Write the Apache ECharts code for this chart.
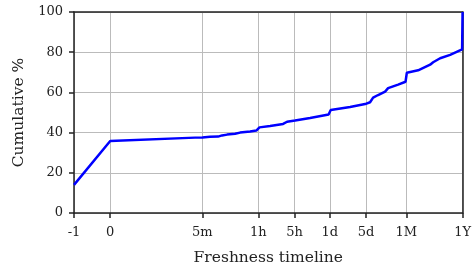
<!DOCTYPE html>
<html>
<head>
  <meta charset="utf-8">
  <title>Freshness timeline</title>
  <script src="https://cdn.jsdelivr.net/npm/echarts@6/dist/echarts.min.js"></script>
  <style>
    html, body { margin: 0; padding: 0; background: #fff; }
    #map { width: 474px; height: 271px; }
  </style>
</head>
<body>
  <div id="map"></div>
  <script>
    // tick positions (seconds, shown on a log axis) and their labels
    var tickSeconds = [1, 5, 300, 3600, 18000, 86400, 432000, 2592000, 31536000];
    var tickLabels = ['-1', '0', '5m', '1h', '5h', '1d', '5d', '1M', '1Y'];
    var yTicks = [0, 20, 40, 60, 80, 100];

    // curve
    var seconds = [1, 5, 217, 300, 422, 603, 720, 900, 1283, 1603, 2500, 3300, 3800, 6080,
      10840, 12940, 18470, 35970, 82000, 90000, 212900, 415000, 517000, 592000, 739000,
      1009000, 1153000, 1800000, 2500000, 2650000, 4375000, 7460000, 8530000, 11640000,
      18150000, 30900000, 31536000];
    var cumulative = [14.0, 35.8, 37.5, 37.6, 37.9, 38.0, 38.6, 39.0, 39.4, 40.0, 40.5, 41.0, 42.6, 43.3,
      44.3, 45.4, 46.0, 47.3, 49.0, 51.2, 52.7, 54.2, 55.1, 57.4, 58.7,
      60.4, 62.1, 63.9, 65.3, 69.8, 71.0, 73.8, 75.0, 77.0,
      78.7, 81.4, 100];

    var lg = function (s) { return Math.log10(s); };
    var tickPos = tickSeconds.map(lg);

    var myChart = echarts.init(document.getElementById('map'));
    var font = 'DejaVu Serif';
    var dark = '#222';
    // plain frame axes for the top and right border
    var frame = {
      axisLine: { show: true, onZero: false, lineStyle: { color: dark, width: 1.5 } },
      axisTick: { show: false },
      axisLabel: { show: false },
      splitLine: { show: false },
      z: 1
    };
    option = {
      animation: false,
      grid: { left: 74, right: 11, top: 12, bottom: 57 },
      xAxis: [
        {
          type: 'value',
          min: tickPos[0],
          max: tickPos[tickPos.length - 1],
          name: 'Freshness timeline',
          nameLocation: 'middle',
          nameGap: 37,
          nameTextStyle: { fontFamily: font, fontSize: 15.5, color: dark },
          axisLine: { lineStyle: { color: dark, width: 1.5 } },
          axisTick: { show: true, length: 5, customValues: tickPos, lineStyle: { color: dark, width: 1.5 } },
          axisLabel: {
            customValues: tickPos,
            fontFamily: font, fontSize: 13, color: dark, margin: 13,
            formatter: function (v) {
              var best = 0;
              for (var i = 1; i < tickPos.length; i++) {
                if (Math.abs(tickPos[i] - v) < Math.abs(tickPos[best] - v)) best = i;
              }
              return tickLabels[best];
            }
          },
          splitLine: { show: true, lineStyle: { color: '#bbb', width: 1 } }
        },
        Object.assign({ type: 'value', position: 'top', min: tickPos[0], max: tickPos[tickPos.length - 1] }, frame)
      ],
      yAxis: [
        {
          type: 'value',
          min: yTicks[0],
          max: yTicks[yTicks.length - 1],
          interval: 20,
          name: 'Cumulative %',
          nameLocation: 'middle',
          nameGap: 44,
          nameTextStyle: { fontFamily: font, fontSize: 15.5, color: dark },
          axisLine: { show: true, lineStyle: { color: dark, width: 1.5 } },
          axisTick: { show: true, length: 5, lineStyle: { color: dark, width: 1.5 } },
          axisLabel: { fontFamily: font, fontSize: 13, color: dark, margin: 11 },
          splitLine: { show: true, lineStyle: { color: '#bbb', width: 1 } }
        },
        Object.assign({ type: 'value', position: 'right', min: 0, max: 100 }, frame)
      ],
      series: [
        {
          type: 'line',
          data: seconds.map(function (s, i) { return [lg(s), cumulative[i]]; }),
          symbol: 'none',
          lineStyle: { color: '#0000ff', width: 2.5 },
          z: 5
        }
      ]
    };
    myChart.setOption(option);
  </script>
</body>
</html>
